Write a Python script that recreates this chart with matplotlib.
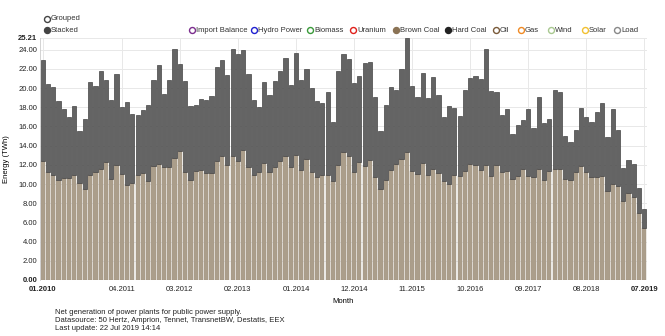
import numpy as np
import matplotlib
matplotlib.use("Agg")
import matplotlib.pyplot as plt
from matplotlib.lines import Line2D

plt.rcParams["font.family"] = ["Liberation Sans", "DejaVu Sans"]

# monthly net generation (TWh), 01.2010 .. 07.2019
brown_coal = [12.42, 11.2, 10.89, 10.4, 10.6, 10.6, 10.89, 10.1, 9.43, 10.96, 11.2, 11.58, 12.28, 10.54, 12.0, 11.03, 9.91, 10.14,
              10.92, 11.17, 10.33, 11.9, 12.1, 11.72, 11.76, 12.7, 13.4, 11.3, 10.37, 11.34, 11.5, 11.17, 11.1, 12.35, 12.94, 12.0,
              12.94, 12.42, 13.5, 11.8, 10.89, 11.27, 12.2, 11.27, 11.76, 12.42, 12.9, 11.8, 13.04, 11.5, 12.6, 11.2, 10.7, 10.96, 10.96,
              10.28, 11.93, 13.32, 12.87, 11.3, 12.28, 11.9, 12.49, 10.75, 9.53, 10.4, 11.48, 12.07, 12.63, 13.36, 11.4, 11.06, 12.17, 10.92,
              11.6, 11.13, 10.3, 9.95, 10.96, 10.85, 11.34, 12.1, 11.97, 11.44, 12.03, 10.82, 11.93, 11.23, 11.34, 10.5, 10.82, 11.58, 10.82,
              10.71, 11.58, 10.4, 11.4, 11.55, 11.55, 10.5, 10.4, 11.3, 11.83, 11.27, 10.71, 10.68, 10.85, 9.25, 9.95, 9.84, 8.28, 9.08, 8.66, 6.99, 5.46]
hard_coal = [10.54, 9.25, 9.25, 8.24, 7.2, 6.4, 7.21, 5.45, 7.37, 9.64, 8.97, 10.19, 8.52, 8.16, 9.46, 6.95, 8.63, 7.16,
             6.23, 6.5, 7.87, 8.9, 10.27, 7.68, 9.04, 11.33, 9.1, 9.4, 7.75, 6.89, 7.35, 7.53, 8.1, 9.85, 9.96, 9.36,
             11.16, 11.08, 10.47, 9.66, 7.91, 6.78, 8.4, 8.03, 8.97, 9.38, 10.2, 8.5, 10.61, 9.3, 9.35, 8.8, 7.94, 7.44, 8.62,
             6.21, 9.81, 10.18, 10.13, 9.22, 8.92, 10.67, 10.19, 8.31, 5.95, 7.8, 8.62, 7.69, 9.35, 11.85, 8.77, 7.97, 9.36, 8.04,
             9.58, 8.1, 6.64, 8.21, 6.92, 6.23, 8.46, 8.9, 9.32, 9.46, 12.04, 8.87, 7.65, 5.95, 6.5, 4.7, 5.35, 5.12, 6.95,
             5.08, 7.48, 5.95, 5.4, 8.28, 8.07, 4.5, 3.93, 4.32, 6.07, 5.73, 5.74, 6.78, 7.58, 5.67, 7.82, 5.81, 3.34, 3.41, 3.44, 2.58, 1.91]

months = [f"{m:02d}.{y}" for y in range(2010, 2020) for m in range(1, 13)][:len(brown_coal)]
tick_idx = [0, 15, 26, 37, 48, 59, 70, 81, 92, 103, 114]
y_ticks = [0, 2, 4, 6, 8, 10, 12, 14, 16, 18, 20, 22, 24, 25.21]

legend_items = [("Import Balance", "#7b2d8e", False), ("Hydro Power", "#1f1fd0", False),
                ("Biomass", "#3a9a3a", False), ("Uranium", "#e0201b", False),
                ("Brown Coal", "#8b7355", True), ("Hard Coal", "#222222", True),
                ("Oil", "#7a5a3a", False), ("Gas", "#f08a24", False),
                ("Wind", "#a8c890", False), ("Solar", "#f2c030", False), ("Load", "#888888", False)]

fig = plt.figure(figsize=(6.65, 3.36), dpi=100)
ax = fig.add_axes([40 / 665, 1 - 280 / 336, 607 / 665, 242 / 336])

x = np.arange(len(brown_coal))
ax.bar(x, brown_coal, width=0.8, color="#ab9e8b", edgecolor="#a39683", linewidth=0.3, zorder=2)
ax.bar(x, hard_coal, bottom=brown_coal, width=0.8, color="#646464", edgecolor="#444444", linewidth=0.5, zorder=2)

ax.set_xlim(-0.5, len(x) - 0.5)
ax.set_ylim(0, 25.21)
ax.set_yticks(y_ticks)
ax.set_yticklabels([f"{v:.2f}" for v in y_ticks], fontsize=5.5)
ax.set_xticks(tick_idx)
ax.set_xticklabels([months[i] for i in tick_idx], fontsize=5.5)
for lab in (ax.get_yticklabels()[0], ax.get_yticklabels()[-1],
            ax.get_xticklabels()[0], ax.get_xticklabels()[-1]):
    lab.set_fontweight("bold")
ax.tick_params(axis="y", length=0, pad=2, colors="#222222")
ax.tick_params(axis="x", length=0, pad=4, colors="#222222")
ax.grid(True, color="#e8e8e8", linewidth=0.7, zorder=0)
ax.set_axisbelow(True)
for s in ["top", "right", "bottom"]:
    ax.spines[s].set_visible(False)
ax.spines["left"].set_color("#cccccc")
ax.spines["left"].set_linewidth(0.6)

ax.set_ylabel("Energy (TWh)", fontsize=5.5)
ax.yaxis.set_label_coords(-30 / 607, 0.5)
ax.set_xlabel("Month", fontsize=5.5, labelpad=4)


def legend_dot(px, py, col, filled):
    fig.add_artist(Line2D([px / 665], [1 - py / 336], transform=fig.transFigure, marker="o",
                          markersize=4.3, markeredgewidth=1.0, markeredgecolor=col,
                          markerfacecolor=col if filled else "white", linestyle="none"))


# legend / controls at the top
legend_dot(47, 19, "#444444", False)
fig.text(51 / 665, 1 - 19 / 336, "Grouped", fontsize=5.5, va="center", color="#333333")
legend_dot(47, 30, "#444444", True)
fig.text(51 / 665, 1 - 30 / 336, "Stacked", fontsize=5.5, va="center", color="#333333")
lx = [192, 254, 310, 353, 396, 448, 496, 521, 551, 585, 617]
for (name, col, filled), px in zip(legend_items, lx):
    legend_dot(px, 30, col, filled)
    fig.text((px + 4) / 665, 1 - 30 / 336, name, fontsize=5.5, va="center", color="#333333")

notes = ["Net generation of power plants for public power supply.",
         "Datasource: 50 Hertz, Amprion, Tennet, TransnetBW, Destatis, EEX",
         "Last update: 22 Jul 2019 14:14"]
for i, t in enumerate(notes):
    fig.text(55 / 665, 1 - (313 + 8 * i) / 336, t, fontsize=5.5, va="center", color="#222222")

fig.savefig("out.png", dpi=100)
